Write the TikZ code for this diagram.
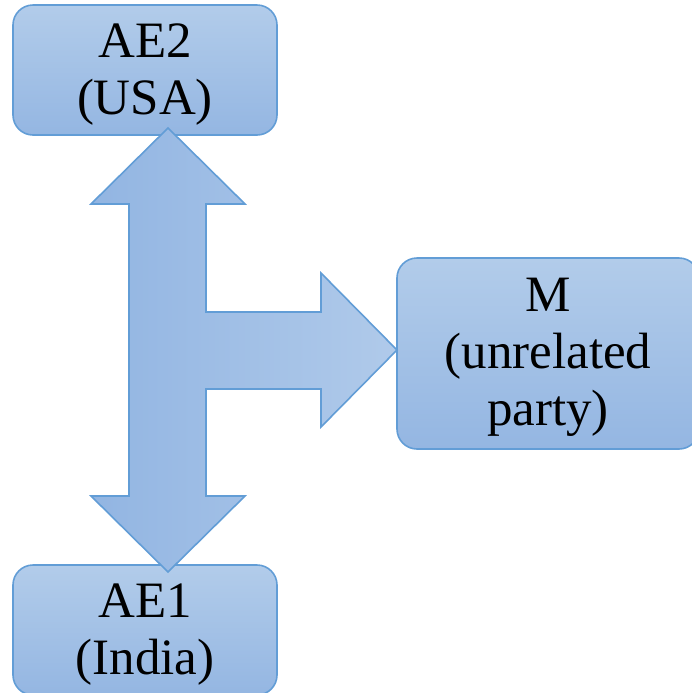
\documentclass[tikz,border=0pt]{standalone}
\usepackage{fontspec}
\setmainfont{Liberation Serif}
\usepackage{xcolor}
\definecolor{boxtop}{RGB}{178,204,234}
\definecolor{boxbot}{RGB}{148,182,226}
\definecolor{boxline}{RGB}{98,157,214}
\definecolor{arrleft}{RGB}{146,181,226}
\definecolor{arrright}{RGB}{176,202,234}

\begin{document}
\begin{tikzpicture}[x=0.5pt,y=-0.5pt,
    party/.style={rectangle,draw=boxline,thick,rounded corners=10pt,
        top color=boxtop,bottom color=boxbot,inner sep=0pt},
    partytext/.style={align=center,inner sep=0pt,
        font=\fontsize{25.5}{28.5}\selectfont}]
        \clip (0,0) rectangle (692,693);

        \node [party,minimum width=132pt,minimum height=65pt] (ae2) at (145,70) {};
        \node [party,minimum width=132pt,minimum height=65pt] (ae1) at (145,630) {};
        \node [party,minimum width=151pt,minimum height=95.5pt] (m) at (548,353.5) {};

        \node [partytext] (ae2text) at ([yshift=-2.5pt]ae2.center) {AE2\\(USA)};
        \node [partytext] (ae1text) at ([yshift=-2.5pt]ae1.center) {AE1\\(India)};
        \node [partytext] (mtext) at ([yshift=-2pt]m.center) {M\\(unrelated\\party)};

        % block arrow: up to AE2, down to AE1, right to M
        \shadedraw[left color=arrleft,right color=arrright,draw=boxline,thick]
            (168,128) -- (245,204) -- (206,204) -- (206,312) -- (321,312) -- (321,273)
            -- (397,350) -- (321,427) -- (321,389) -- (206,389) -- (206,496) -- (245,496)
            -- (168,572) -- (91,496) -- (129,496) -- (129,204) -- (91,204) -- cycle;
        \end{tikzpicture}
\end{document}
